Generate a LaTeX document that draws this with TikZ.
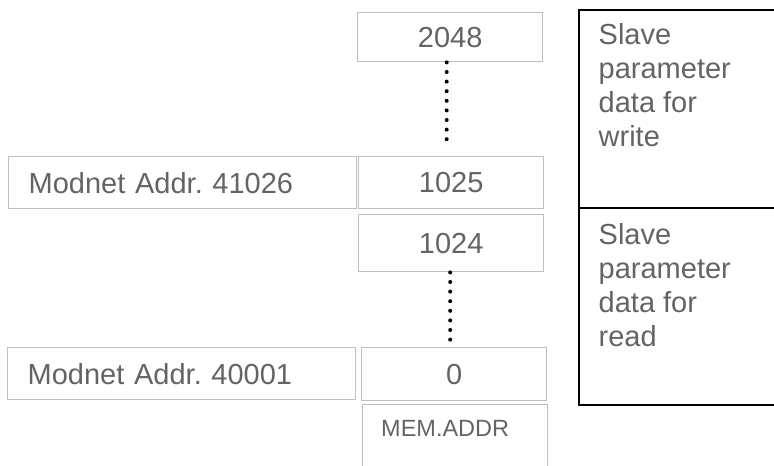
\documentclass[tikz,border=0pt]{standalone}
\usepackage{fontspec}
\setmainfont{Liberation Sans}
\frenchspacing
\definecolor{txtgray}{RGB}{100,100,100}
\definecolor{boxgray}{RGB}{191,191,191}

\begin{document}
\begin{tikzpicture}[x=1pt,y=-1pt,
    cell/.style={rectangle, draw=boxgray, line width=1.4pt, anchor=north west,
      inner sep=0pt, minimum width=185pt, text=txtgray,
      font=\fontsize{29}{34}\selectfont},
    addr/.style={cell, minimum width=348pt, text width=308pt, inner xsep=20pt,
      align=left},
    sect/.style={rectangle, draw=black, line width=1.6pt, anchor=north west,
      inner sep=0pt, minimum width=198pt},
    secttext/.style={anchor=north west, inner sep=0pt, align=left, text=txtgray,
      font=\fontsize{29}{34}\selectfont},
    dots/.style={line width=4pt, line cap=round, dash pattern=on 0pt off 9.6pt}]
    \useasboundingbox (0,0) rectangle (774,466);
    % value column
    \node[cell, minimum height=49pt] (n2048) at (357,12) {2048};
    \node[cell, minimum height=52pt] (n1025) at (358,156) {1025};
    \node[cell, minimum height=57pt] (n1024) at (358,214) {1024};
    \node[cell, minimum height=53pt] (n0) at (361,347) {0};
    \node[cell, minimum height=76pt] (memaddr) at (362,404) {};
    \node[anchor=base west, inner sep=0pt, text=txtgray,
      font=\fontsize{23.5}{28}\selectfont] (memtext)
      at ([shift={(19,32)}]memaddr.north west) {MEM.ADDR};
    % modnet addresses
    \node[addr, minimum height=52pt] (m41026) at (8,156) {Modnet Addr. 41026};
    \node[addr, minimum height=52pt] (m40001) at (7,347) {Modnet Addr. 40001};
    % sections
    \node[sect, minimum height=198pt] (wsect) at (578,9) {};
    \node[sect, minimum height=197pt] (rsect) at (578,207) {};
    \node[secttext] (wtext) at ([shift={(20.5,13.9)}]wsect.north west)
      {Slave\\parameter\\data for\\write};
    \node[secttext] (rtext) at ([shift={(20.5,15.9)}]rsect.north west)
      {Slave\\parameter\\data for\\read};
    % dotted gaps
    \draw[dots, shorten >=8pt] ([xshift=-3.5]n2048.south)
      -- ([xshift=-3.5]n2048.south |- n1025.north);
    \draw[dots, shorten >=7pt] ([xshift=-1]n1024.south)
      -- ([xshift=-1]n1024.south |- n0.north);
\end{tikzpicture}
\end{document}
